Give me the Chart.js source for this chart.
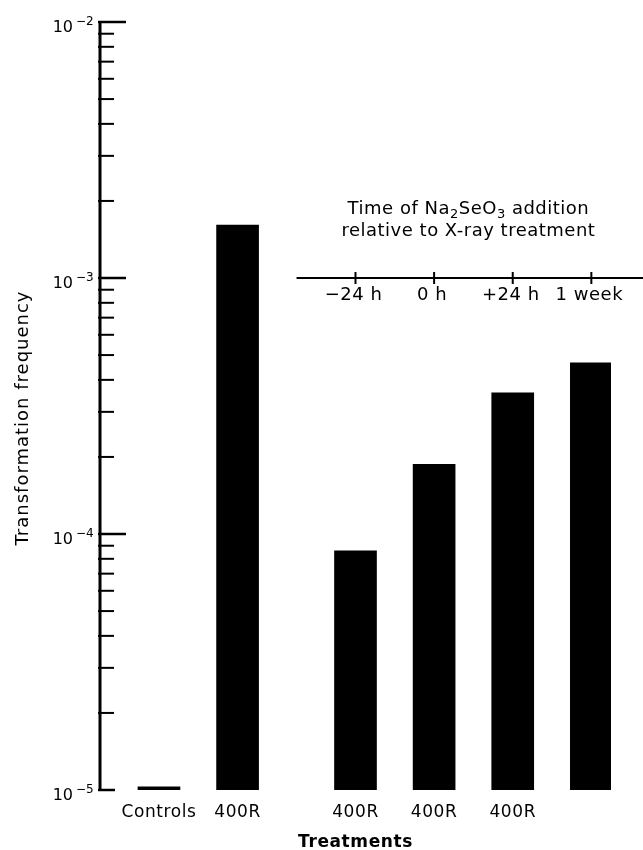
<!DOCTYPE html>
<html>
<head>
<meta charset="utf-8">
<script src="https://cdn.jsdelivr.net/npm/chart.js@4"></script>
<style>
  html, body { margin: 0; padding: 0; background: white; }
  #wrap { width: 643px; height: 850px; }
</style>
</head>
<body>
<div id="wrap"><canvas id="myChart"></canvas></div>
<script>
// slots on the x axis; blank ones are only spacing
const categories = ['', 'Controls', '', '400R', '', '', '400R', '', '400R', '', '400R', '', ''];
const frequency = [null, 1.03e-5, null, 1.61e-3, null, null, 8.6e-5, null, 1.87e-4, null, 3.56e-4, null, 4.66e-4];

// Na2SeO3 timing axis drawn at the 10^-3 level
const timeLabels = ['\u221224 h', '0 h', '+24 h', '1 week'];
const timeSlots = [6, 8, 10, 12];
const timeAxisValue = 1e-3;
const timeAxisFrom = 4.5; // half way between the single 400R bar and the first timed bar

const yPowers = [-5, -4, -3, -2];
const yMin = 1e-5;
const yMax = 1e-2;

const ink = '#000';
const font = '"DejaVu Sans", "Liberation Sans", sans-serif';

const drawAxes = {
    id: 'draw-axes',
    beforeDraw: (chart) => {
        const ctx = chart.ctx;
        ctx.save();
        ctx.fillStyle = 'white';
        ctx.fillRect(0, 0, chart.width, chart.height);
        ctx.restore();
        ctx.letterSpacing = '0.6px';
    },
    afterDraw: (chart) => {
        const ctx = chart.ctx;
        const x = chart.scales.x;
        const y = chart.scales.y;
        const left = chart.chartArea.left;
        ctx.save();
        ctx.strokeStyle = ink;
        ctx.fillStyle = ink;

        // y axis line, ticks point into the plot
        ctx.lineWidth = 3;
        ctx.beginPath();
        ctx.moveTo(left, y.getPixelForValue(yMax) - 1);
        ctx.lineTo(left, y.getPixelForValue(yMin) + 1);
        ctx.stroke();

        ctx.lineWidth = 2;
        yPowers.forEach(p => {
            for (let m = 1; m <= 9; m++) {
                if (p === -2 && m > 1) break;
                const py = y.getPixelForValue(m * Math.pow(10, p));
                let len = 14;
                if (m === 1) len = p === -5 ? 15 : 26;
                ctx.lineWidth = m === 1 ? 2.5 : 2;
                ctx.beginPath();
                ctx.moveTo(left - 2, py);
                ctx.lineTo(left + len, py);
                ctx.stroke();
            }
            // 10^p label
            const py = y.getPixelForValue(Math.pow(10, p));
            ctx.font = '16px ' + font;
            ctx.textAlign = 'right';
            ctx.textBaseline = 'alphabetic';
            ctx.letterSpacing = '0px';
            ctx.fillText('10', 73, py + 9.5);
            ctx.font = '12px ' + font;
            ctx.textAlign = 'left';
            ctx.fillText('\u2212' + (-p), 76, py + 2.5);
        });

        // y axis title
        ctx.save();
        ctx.translate(28, 418);
        ctx.rotate(-Math.PI / 2);
        ctx.font = '18px ' + font;
        ctx.letterSpacing = '1px';
        ctx.textAlign = 'center';
        ctx.textBaseline = 'alphabetic';
        ctx.fillText('Transformation frequency', 0, 0);
        ctx.restore();

        // timing axis
        const ty = y.getPixelForValue(timeAxisValue);
        ctx.lineWidth = 2;
        ctx.beginPath();
        ctx.moveTo(x.getPixelForValue(timeAxisFrom), ty);
        ctx.lineTo(chart.width, ty);
        ctx.stroke();
        ctx.font = '18px ' + font;
        ctx.letterSpacing = '0.5px';
        ctx.textAlign = 'center';
        timeSlots.forEach((s, i) => {
            const px = x.getPixelForValue(s);
            ctx.beginPath();
            ctx.moveTo(px, ty - 6);
            ctx.lineTo(px, ty + 6);
            ctx.stroke();
            ctx.fillText(timeLabels[i], px - 2, ty + 22);
        });

        // timing axis title with subscripts
        const cx = (x.getPixelForValue(timeSlots[0]) + x.getPixelForValue(timeSlots[timeSlots.length - 1])) / 2 - 5;
        const parts = [['Time of Na', 0], ['2', 1], ['SeO', 0], ['3', 1], [' addition', 0]];
        const setPart = (sub) => { ctx.font = (sub ? '13px ' : '18px ') + font; };
        let total = 0;
        parts.forEach(([t, sub]) => { setPart(sub); total += ctx.measureText(t).width; });
        let px = cx - total / 2;
        ctx.textAlign = 'left';
        parts.forEach(([t, sub]) => {
            setPart(sub);
            ctx.fillText(t, px, ty - 64 + (sub ? 4 : 0));
            px += ctx.measureText(t).width;
        });
        ctx.font = '18px ' + font;
        ctx.textAlign = 'center';
        ctx.fillText('relative to X-ray treatment', cx, ty - 42);
        ctx.restore();
    }
};

const ctx = document.getElementById('myChart').getContext('2d');
const myChart = new Chart(ctx, {
    type: 'bar',
    data: {
        labels: categories,
        datasets: [{
            data: frequency,
            backgroundColor: ink,
            borderWidth: 0,
            barThickness: 42
        }]
    },
    options: {
        responsive: true,
        maintainAspectRatio: false,
        animation: false,
        layout: {
            padding: { left: 100, right: 32, top: 22, bottom: 0 }
        },
        plugins: {
            legend: { display: false },
            tooltip: { enabled: false }
        },
        scales: {
            x: {
                grid: { display: false, drawTicks: false },
                border: { display: false },
                ticks: {
                    autoSkip: false,
                    maxRotation: 0,
                    padding: 12,
                    color: ink,
                    font: { family: font, size: 17 }
                },
                title: {
                    display: true,
                    text: 'Treatments',
                    color: ink,
                    padding: { top: 0, bottom: 0 },
                    font: { family: font, size: 17, weight: 'bold', lineHeight: 0.9 }
                },
                afterFit: (scale) => { scale.height = 60; }
            },
            y: {
                type: 'logarithmic',
                display: false,
                min: yMin,
                max: yMax
            }
        }
    },
    plugins: [drawAxes]
});
</script>
</body>
</html>
